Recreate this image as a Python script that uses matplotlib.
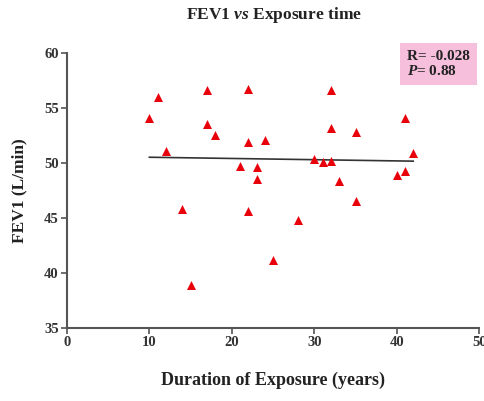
import numpy as np
import matplotlib.pyplot as plt

# exposure duration (years) and FEV1 (L/min)
years = [10, 11, 12, 14, 15, 17, 17, 18, 21, 22, 22, 22, 23, 23, 24, 25,
         28, 30, 31, 32, 32, 32, 33, 35, 35, 40, 41, 41, 42]
fev1 = [54.1, 56.0, 51.1, 45.8, 38.9, 56.6, 53.5, 52.5, 49.7, 56.7, 51.9,
        45.6, 49.6, 48.5, 52.1, 41.2, 44.8, 50.4, 50.1, 50.2, 56.6, 53.2,
        48.4, 52.8, 46.5, 48.9, 49.3, 54.1, 50.9]
xticks = [0, 10, 20, 30, 40, 50]
yticks = [35, 40, 45, 50, 55, 60]

plt.rcParams["font.family"] = ["Liberation Serif", "DejaVu Serif"]
plt.rcParams["font.weight"] = "bold"
plt.rcParams["mathtext.fontset"] = "custom"
plt.rcParams["mathtext.it"] = "Liberation Serif:italic:bold"
plt.rcParams["mathtext.rm"] = "Liberation Serif:bold"
plt.rcParams["mathtext.bf"] = "Liberation Serif:bold"

fig = plt.figure(figsize=(4.85, 4.01), dpi=100)
ax = fig.add_axes([0.138, 0.182, 0.850, 0.686])

ax.scatter(years, fev1, marker="^", s=42, color="#e8000b", zorder=3,
           linewidths=0)

# linear fit line over data range
slope, icpt = np.polyfit(years, fev1, 1)
xs = np.array([min(years), max(years)])
ax.plot(xs, slope * xs + icpt, color="#333333", linewidth=1.2, zorder=2)

ax.set_xlim(0, 50)
ax.set_ylim(35, 60)
ax.set_xticks(xticks)
ax.set_yticks(yticks)
ax.tick_params(labelsize=10.5, length=4, width=1.2, color="#555555",
               pad=2)
for lab in ax.get_xticklabels() + ax.get_yticklabels():
    lab.set_fontweight("bold")
    lab.set_color("#333333")

for side in ["top", "right"]:
    ax.spines[side].set_visible(False)
for side in ["left", "bottom"]:
    ax.spines[side].set_color("#555555")
    ax.spines[side].set_linewidth(1.5)

ax.set_xlabel("Duration of Exposure (years)", fontsize=13,
              fontweight="bold", color="#222222", labelpad=16)
ax.set_ylabel("FEV1 (L/min)", fontsize=12.5, fontweight="bold",
              color="#222222", labelpad=12)

fig.text(0.565, 0.962, r"FEV1 $\it{vs}$ Exposure time", ha="center",
         va="center", fontsize=12.5, fontweight="bold", color="#222222")

ax.text(0.825, 1.01, "R= -0.028\n" + r"$\it{P}$= 0.88",
        transform=ax.transAxes, ha="left", va="top", fontsize=11,
        fontweight="bold", color="#222222", linespacing=1.1,
        bbox=dict(boxstyle="square,pad=0.45", facecolor="#f6bfdc",
                  edgecolor="none"))

fig.savefig("out.png", dpi=100)
